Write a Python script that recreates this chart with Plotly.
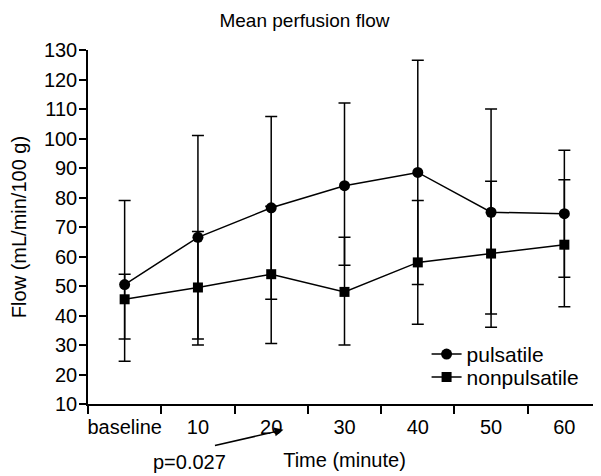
import plotly.graph_objects as go

time_labels = ['baseline', '10', '20', '30', '40', '50', '60']

pulsatile_mean = [50.5, 66.5, 76.5, 84, 88.5, 75, 74.5]
pulsatile_upper = [79, 101, 107.5, 112, 126.5, 110, 96]
pulsatile_lower = [24.5, 32, 45.5, 57, 50.5, 40.5, 53]

nonpulsatile_mean = [45.5, 49.5, 54, 48, 58, 61, 64]
nonpulsatile_upper = [54, 68.5, 77, 66.5, 79, 85.5, 86]
nonpulsatile_lower = [32, 30, 30.5, 30, 37, 36, 43]

font = 'Liberation Sans, Arial, sans-serif'


def err(mean, upper, lower):
    return dict(type='data', symmetric=False,
                array=[u - m for u, m in zip(upper, mean)],
                arrayminus=[m - l for m, l in zip(mean, lower)],
                color='black', thickness=1.5, width=6)


fig = go.Figure()
fig.add_trace(go.Scatter(
    x=time_labels, y=pulsatile_mean, name='pulsatile', mode='lines+markers',
    line=dict(color='black', width=1.5),
    marker=dict(symbol='circle', size=11, color='black'),
    error_y=err(pulsatile_mean, pulsatile_upper, pulsatile_lower),
    legend='legend'))
fig.add_trace(go.Scatter(
    x=time_labels, y=nonpulsatile_mean, name='nonpulsatile', mode='lines+markers',
    line=dict(color='black', width=1.5),
    marker=dict(symbol='square', size=10, color='black'),
    error_y=err(nonpulsatile_mean, nonpulsatile_upper, nonpulsatile_lower),
    legend='legend2'))

leg = dict(xanchor='left', yanchor='middle', bgcolor='rgba(0,0,0,0)',
           font=dict(size=21), borderwidth=0)

# page body adds ~8px offset, so the figure is sized to the visible area
fig.update_layout(
    width=593, height=468,
    margin=dict(l=80, r=0, t=42, b=72),
    paper_bgcolor='white', plot_bgcolor='white',
    font=dict(family=font, size=20, color='black'),
    title=dict(text='Mean perfusion flow', x=0.5, xanchor='center',
               y=0.974, yanchor='middle', font=dict(size=19)),
    showlegend=True,
    legend=dict(leg, x=0.66, y=0.14),
    legend2=dict(leg, x=0.66, y=0.075),
)
fig.update_xaxes(
    type='category', range=[-0.5, 6.5], tickson='boundaries', tickangle=0,
    ticks='outside', ticklen=8, tickwidth=1.5, tickcolor='black',
    ticklabelstandoff=4,
    showline=True, linecolor='black', linewidth=1.5, showgrid=False,
    zeroline=False, tickfont=dict(size=20), automargin=False,
    title=dict(text='Time (minute)', standoff=16, font=dict(size=20)))
fig.update_yaxes(
    range=[10, 130], dtick=10, tick0=10,
    ticks='outside', ticklen=7, tickwidth=1.5, tickcolor='black',
    ticklabelstandoff=-2,
    showline=True, linecolor='black', linewidth=1.5, showgrid=False,
    zeroline=False, tickfont=dict(size=20), automargin=False,
    title=dict(text='Flow (mL/min/100 g)', standoff=15, font=dict(size=20)))

fig.add_annotation(text='p=0.027', xref='paper', yref='paper',
                   x=0.197, y=-0.163, showarrow=False,
                   font=dict(size=20), xanchor='center', yanchor='middle')
fig.add_annotation(text='', xref='paper', yref='paper',
                   x=0.381, y=-0.073, ax=-70, ay=16,
                   showarrow=True, arrowhead=2, arrowsize=1.2,
                   arrowwidth=1.5, arrowcolor='black')

fig.write_html('out.html')
